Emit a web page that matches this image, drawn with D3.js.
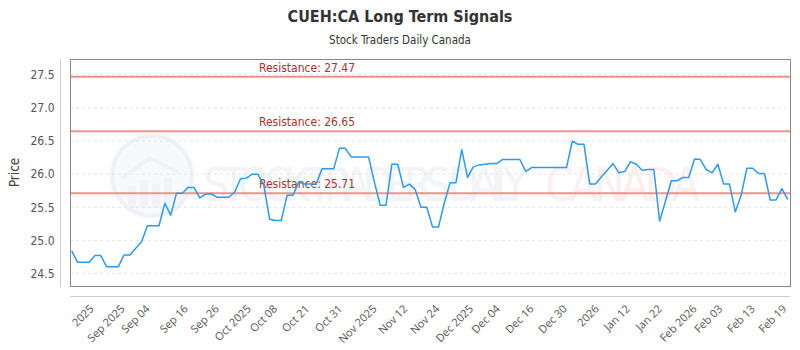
<!DOCTYPE html>
<html>
<head>
<meta charset="utf-8">
<script src="https://cdn.jsdelivr.net/npm/d3@7"></script>
<style>
  body { margin: 0; background: #fff; }
  svg text { font-family: "DejaVu Sans Condensed", "DejaVu Sans", sans-serif; }
</style>
</head>
<body>
<div id="container"></div>
<script>
// chart data
const prices = [
  24.84, 24.67, 24.67, 24.67, 24.77, 24.77, 24.60, 24.60, 24.60, 24.78,
  24.78, 24.88, 24.98, 25.22, 25.22, 25.22, 25.56, 25.38, 25.71, 25.71,
  25.80, 25.80, 25.64, 25.70, 25.70, 25.65, 25.65, 25.65, 25.73, 25.93,
  25.94, 26.00, 26.00, 25.83, 25.32, 25.30, 25.30, 25.68, 25.68, 25.88,
  25.85, 25.85, 25.85, 26.08, 26.08, 26.08, 26.39, 26.39, 26.26, 26.26,
  26.26, 26.26, 25.88, 25.53, 25.53, 26.15, 26.15, 25.80, 25.85, 25.77,
  25.50, 25.50, 25.20, 25.20, 25.56, 25.87, 25.87, 26.37, 25.95, 26.11,
  26.14, 26.15, 26.16, 26.16, 26.22, 26.22, 26.22, 26.22, 26.04, 26.10,
  26.10, 26.10, 26.10, 26.10, 26.10, 26.10, 26.50, 26.45, 26.45, 25.85,
  25.85, 25.96, 26.06, 26.16, 26.02, 26.04, 26.19, 26.15, 26.06, 26.07,
  26.07, 25.29, 25.59, 25.90, 25.90, 25.95, 25.95, 26.23, 26.22, 26.07,
  26.02, 26.15, 25.85, 25.85, 25.43, 25.68, 26.09, 26.09, 26.01, 26.01,
  25.61, 25.61, 25.78, 25.62
];
const tickLabels = ["2025", "Sep 2025", "Sep 04", "Sep 16", "Sep 26", "Oct 2025", "Oct 08",
  "Oct 21", "Oct 31", "Nov 2025", "Nov 12", "Nov 24", "Dec 2025", "Dec 04", "Dec 16",
  "Dec 30", "2026", "Jan 12", "Jan 22", "Feb 2026", "Feb 03", "Feb 13", "Feb 19"];
// data index each tick label sits at
const tickIdx = [4, 9.3, 13.6, 20.2, 25.5, 31, 35.5, 41, 46.7, 52.6, 57.9, 63.4,
  69.2, 73.8, 79.6, 85.3, 90.8, 96.1, 101.6, 107.6, 112, 117.6, 123];
const yTicks = [24.5, 25.0, 25.5, 26.0, 26.5, 27.0, 27.5];
const resistances = [27.47, 26.65, 25.71];

const WIDTH = 800;
const HEIGHT = 350;
const LEFT = 70, RIGHT = 790, TOP = 59, BOTTOM = 286;

const svg = d3.select("#container")
  .append("svg")
  .attr("width", WIDTH)
  .attr("height", HEIGHT);

const xScale = d3.scaleLinear()
  .domain([0, prices.length - 1])
  .range([71.7, 787.7]);

const yScale = d3.scaleLinear()
  .domain([24.31, 27.74])
  .range([BOTTOM, TOP]);

// titles
svg.append("text")
  .attr("x", 400).attr("y", 22)
  .attr("text-anchor", "middle")
  .attr("font-size", 16).attr("font-weight", "bold")
  .attr("fill", "#333")
  .text("CUEH:CA Long Term Signals");

svg.append("text")
  .attr("x", 400).attr("y", 44)
  .attr("text-anchor", "middle")
  .attr("font-size", 11.5)
  .attr("fill", "#333")
  .text("Stock Traders Daily Canada");

// watermark
const wm = svg.append("g").attr("opacity", 0.5);
wm.append("circle")
  .attr("cx", 152).attr("cy", 176).attr("r", 40)
  .attr("fill", "#f1f4fa").attr("stroke", "#dfe6f0").attr("stroke-width", 4);
wm.append("path")
  .attr("d", "M122,178 L150,158 L178,172")
  .attr("fill", "none").attr("stroke", "#dfe6f0").attr("stroke-width", 4);
[[128, 186, 8, 22], [140, 180, 8, 28], [152, 184, 8, 24], [164, 178, 8, 30]].forEach(b => {
  wm.append("rect").attr("x", b[0]).attr("y", b[1]).attr("width", b[2]).attr("height", b[3])
    .attr("fill", "#e3eaf4");
});
wm.append("text")
  .attr("x", 203).attr("y", 201)
  .attr("font-size", 46)
  .attr("fill", "#e6eaf2")
  .attr("textLength", 325)
  .text("STOCK TRADERS DAILY");
wm.append("text")
  .attr("x", 545).attr("y", 201)
  .attr("font-size", 46)
  .attr("fill", "#fde0e0")
  .attr("textLength", 155)
  .text("CANADA");

// grid
svg.append("g")
  .selectAll("line")
  .data(yTicks)
  .enter()
  .append("line")
  .attr("x1", LEFT).attr("x2", RIGHT)
  .attr("y1", d => yScale(d)).attr("y2", d => yScale(d))
  .attr("stroke", "#e3e3e3")
  .attr("stroke-dasharray", "3,3");

// y axis
const leftAxis = d3.axisLeft(yScale)
  .tickValues(yTicks)
  .tickFormat(d3.format(".1f"))
  .tickSize(0)
  .tickPadding(6);

const gy = svg.append("g")
  .attr("transform", "translate(60.5,0)")
  .call(leftAxis);
gy.select(".domain").attr("stroke", "#ccc").attr("d", "M0," + TOP + "V" + (BOTTOM + 1));
gy.selectAll("text")
  .attr("font-size", 12)
  .attr("fill", "#555")
  .style("font-family", "\"DejaVu Sans Condensed\", sans-serif");

svg.append("text")
  .attr("transform", "translate(19," + ((TOP + BOTTOM) / 2) + ") rotate(-90)")
  .attr("text-anchor", "middle")
  .attr("font-size", 13.5)
  .attr("fill", "#444")
  .text("Price");

// x axis
const bottomAxis = d3.axisBottom(xScale)
  .tickValues(tickIdx)
  .tickFormat((d, i) => tickLabels[i])
  .tickSize(0)
  .tickPadding(0);

const gx = svg.append("g")
  .attr("transform", "translate(0,296.5)")
  .call(bottomAxis);
gx.select(".domain").attr("stroke", "#ccc").attr("d", "M" + LEFT + ",0H" + RIGHT);
gx.selectAll("text")
  .attr("font-size", 11)
  .attr("fill", "#555")
  .attr("text-anchor", "end")
  .attr("dy", 0)
  .attr("transform", "translate(-1,13) rotate(-45)")
  .style("font-family", "\"Open Sans\", sans-serif");

// resistance lines
const res = svg.append("g");
res.selectAll("line")
  .data(resistances)
  .enter()
  .append("line")
  .attr("x1", LEFT).attr("x2", RIGHT)
  .attr("y1", d => yScale(d)).attr("y2", d => yScale(d))
  .attr("stroke", "#f0928a")
  .attr("stroke-width", 2);
res.selectAll("text")
  .data(resistances)
  .enter()
  .append("text")
  .attr("x", 259)
  .attr("y", d => yScale(d) - 5)
  .attr("font-size", 12)
  .attr("fill", "#b0302c")
  .text(d => "Resistance: " + d.toFixed(2));

// price line
const line = d3.line()
  .x((d, i) => xScale(i))
  .y(d => yScale(d));

svg.append("path")
  .datum(prices)
  .attr("d", line)
  .attr("fill", "none")
  .attr("stroke", "#2b9af3")
  .attr("stroke-width", 1.5)
  .attr("stroke-linejoin", "round");

// frame
svg.append("rect")
  .attr("x", LEFT + 0.5).attr("y", TOP + 0.5)
  .attr("width", RIGHT - LEFT).attr("height", BOTTOM - TOP)
  .attr("fill", "none")
  .attr("stroke", "#888");
</script>
</body>
</html>
